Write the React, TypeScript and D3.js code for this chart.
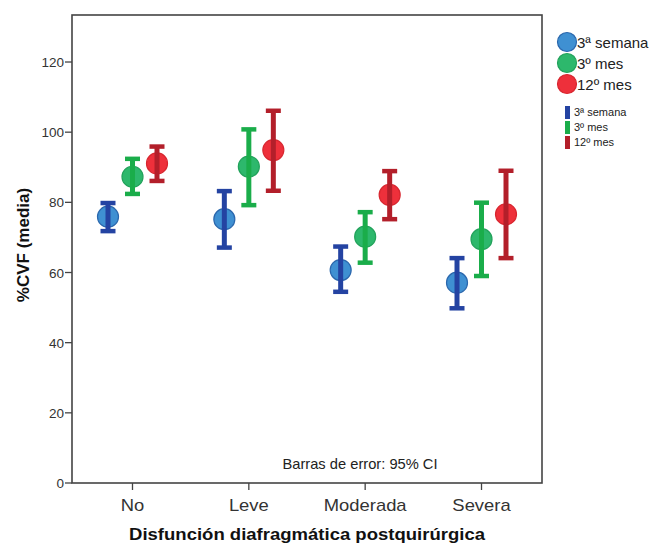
import React from "react";
import * as d3 from "d3";

const categories = ["No", "Leve", "Moderada", "Severa"];
const seriesNames = ["3ª semana", "3º mes", "12º mes"];
const meanSemana3 = [75.9, 75.2, 60.7, 57.1];
const lowSemana3 = [71.8, 67.1, 54.5, 49.8];
const highSemana3 = [79.8, 83.2, 67.4, 64.1];
const meanMes3 = [87.3, 90.2, 70.2, 69.5];
const lowMes3 = [82.4, 79.2, 62.8, 59.0];
const highMes3 = [92.4, 100.8, 77.2, 79.9];
const meanMes12 = [91.1, 94.9, 82.1, 76.6];
const lowMes12 = [86.1, 83.3, 75.2, 64.1];
const highMes12 = [95.9, 106.1, 88.9, 89.0];
const yTicks = [0, 20, 40, 60, 80, 100, 120];

const circleFill = ["#3f90d2", "#2db86c", "#ee303b"];
const circleStroke = ["#2a67ad", "#22a25b", "#d8262f"];
const barColor = ["#2443a2", "#1aad4a", "#b31f2a"];

const series = [
  { mean: meanSemana3, low: lowSemana3, high: highSemana3 },
  { mean: meanMes3, low: lowMes3, high: highMes3 },
  { mean: meanMes12, low: lowMes12, high: highMes12 },
];

export default function App() {
  const W = 652, H = 546;
  const left = 72, right = 542, top = 15, bottom = 483;
  const x = d3.scalePoint<string>().domain(categories).range([left, right]).padding(0.52);
  const y = d3.scaleLinear().domain([0, 133.4]).range([bottom, top]);
  const offsets = [-24.5, 0, 24.5];
  const font = "Arial, 'Liberation Sans', sans-serif";
  const capW = 15;

  return (
    <svg width={W} height={H} style={{ position: "absolute", left: 0, top: 0, fontFamily: font }}>
      <rect x={0} y={0} width={W} height={H} fill="#fff" />
      <rect x={left} y={top} width={right - left} height={bottom - top} fill="none" stroke="#444" strokeWidth={1.6} />
      {yTicks.map((t) => (
        <g key={t}>
          <line x1={left - 7} x2={left} y1={y(t)} y2={y(t)} stroke="#444" strokeWidth={1.3} />
          <text x={left - 8} y={y(t) + 5} textAnchor="end" fontSize={13.5} fill="#333">{t}</text>
        </g>
      ))}
      {categories.map((c) => (
        <g key={c}>
          <line x1={x(c)!} x2={x(c)!} y1={bottom} y2={bottom + 7} stroke="#444" strokeWidth={1.3} />
          <text transform={`translate(${x(c)!}, ${bottom + 28}) scale(1.15, 1)`} textAnchor="middle" fontSize={16} fill="#333">{c}</text>
        </g>
      ))}
      <text transform="translate(307, 540) scale(1.09, 1)" textAnchor="middle" fontSize={17} fontWeight="bold" fill="#111">Disfunción diafragmática postquirúrgica</text>
      <text transform="translate(29, 245) rotate(-90)" textAnchor="middle" fontSize={17} fontWeight="bold" fill="#111">%CVF (media)</text>
      <text transform="translate(360, 469) scale(1.05, 1)" textAnchor="middle" fontSize={14} fill="#222">Barras de error: 95% CI</text>
      {series.map((s, si) =>
        categories.map((c, ci) => {
          const cx = x(c)! + offsets[si];
          return (
            <g key={`${si}-${ci}`}>
              <circle cx={cx} cy={y(s.mean[ci])} r={10.5} fill={circleFill[si]} stroke={circleStroke[si]} strokeWidth={1.2} />
              <line x1={cx} x2={cx} y1={y(s.high[ci])} y2={y(s.low[ci])} stroke={barColor[si]} strokeWidth={5} />
              <line x1={cx - capW / 2} x2={cx + capW / 2} y1={y(s.high[ci])} y2={y(s.high[ci])} stroke={barColor[si]} strokeWidth={4.5} />
              <line x1={cx - capW / 2} x2={cx + capW / 2} y1={y(s.low[ci])} y2={y(s.low[ci])} stroke={barColor[si]} strokeWidth={4.5} />
            </g>
          );
        })
      )}
      {seriesNames.map((n, i) => (
        <g key={`lc-${i}`}>
          <circle cx={567} cy={[42, 63, 84][i]} r={9.5} fill={circleFill[i]} stroke={circleStroke[i]} strokeWidth={1.2} />
          <text x={577} y={[42, 63, 84][i] + 5.5} fontSize={15} fill="#222">{n}</text>
        </g>
      ))}
      {seriesNames.map((n, i) => (
        <g key={`lb-${i}`}>
          <rect x={565} y={[106, 121, 136][i]} width={5} height={13} fill={barColor[i]} />
          <text x={574} y={[106, 121, 136][i] + 10} fontSize={11} fill="#222">{n}</text>
        </g>
      ))}
    </svg>
  );
}
